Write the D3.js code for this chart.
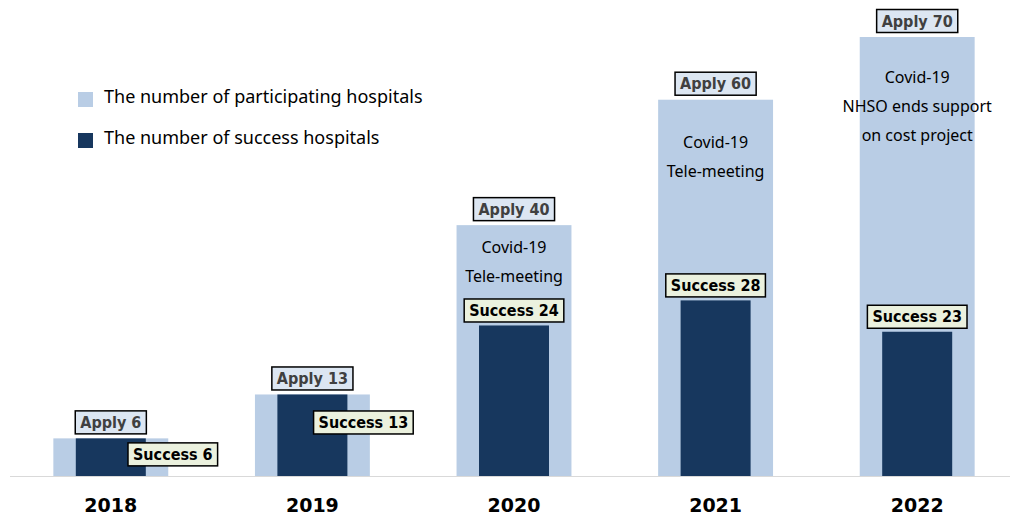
<!DOCTYPE html>
<html>
<head>
<meta charset="utf-8">
<script src="https://cdn.jsdelivr.net/npm/d3@7"></script>
<style>
  body { margin: 0; background: #fff; }
  svg { display: block; }
</style>
</head>
<body>
<script>
"use strict";
const years = ["2018", "2019", "2020", "2021", "2022"];
const applied = [6, 13, 40, 60, 70];
const success = [6, 13, 24, 28, 23];
const notes = [[], [], ["Covid-19", "Tele-meeting"], ["Covid-19", "Tele-meeting"], ["Covid-19", "NHSO ends support", "on cost project"]];
const legendLabels = ["The number of participating hospitals", "The number of success hospitals"];

const w = 1010, h = 516;
const light = "#b9cde5", dark = "#17375e";
const boldFont = "'DejaVu Sans Condensed', 'DejaVu Sans', sans-serif";
const textFont = "'Noto Sans', sans-serif";

const svg = d3.select("body").append("svg").attr("width", w).attr("height", h);

const x = d3.scaleBand().domain(years).range([10, 1018]).paddingInner(0.43).paddingOuter(0.215);
const y = d3.scaleLinear().domain([0, 70]).range([476, 37]);
const darkW = 70;

const rows = years.map((yr, i) => ({ yr, a: applied[i], s: success[i], note: notes[i], i }));

// baseline
svg.append("line").attr("x1", 10).attr("x2", 1014).attr("y1", y(0) + 0.5).attr("y2", y(0) + 0.5)
  .attr("stroke", "#d9d9d9").attr("stroke-width", 1);

svg.selectAll("rect.apply").data(rows).enter().append("rect").attr("class", "apply")
  .attr("x", d => x(d.yr)).attr("width", x.bandwidth())
  .attr("y", d => y(d.a)).attr("height", d => y(0) - y(d.a)).attr("fill", light);

svg.selectAll("rect.succ").data(rows).enter().append("rect").attr("class", "succ")
  .attr("x", d => x(d.yr) + (x.bandwidth() - darkW) / 2).attr("width", darkW)
  .attr("y", d => y(d.s)).attr("height", d => y(0) - y(d.s)).attr("fill", dark);

// year labels
const xAxis = d3.axisBottom(x).tickSize(0).tickPadding(0);
const gx = svg.append("g").attr("transform", "translate(0,495)").call(xAxis);
gx.select(".domain").remove();
gx.selectAll("text").attr("font-family", "'DejaVu Sans', sans-serif").attr("font-weight", "bold")
  .attr("font-size", 19).attr("fill", "#000").attr("dy", "0.9em");

function boxLabel(cx, cy, txt, fill, color) {
  const g = svg.append("g");
  const t = g.append("text").attr("x", cx).attr("y", cy).attr("text-anchor", "middle")
    .attr("dominant-baseline", "central").attr("font-family", boldFont).attr("font-weight", "bold")
    .attr("font-size", 16).attr("fill", color).text(txt);
  const bb = t.node().getBBox();
  g.insert("rect", "text").attr("x", cx - bb.width / 2 - 5).attr("y", cy - 11.5)
    .attr("width", bb.width + 10).attr("height", 23).attr("fill", fill)
    .attr("stroke", "#000").attr("stroke-width", 1.5);
}

// apply labels: above the light bars
rows.forEach(d => {
  boxLabel(x(d.yr) + x.bandwidth() / 2, y(d.a) - 16, "Apply " + d.a, "#dce6f2", "#404040");
});

// success labels: two small years sit beside the bar, others above
const succShift = [[62, 16], [51, 28], [0, -15], [0, -15], [0, -15]];
rows.forEach(d => {
  const [dx, dy] = succShift[d.i];
  boxLabel(x(d.yr) + x.bandwidth() / 2 + dx, y(d.s) + dy, "Success " + d.s, "#ebf1de", "#000");
});

// notes inside the light bars
const noteTop = [0, 0, 22, 42, 40];
rows.forEach(d => {
  d.note.forEach((line, j) => {
    svg.append("text").attr("x", x(d.yr) + x.bandwidth() / 2).attr("y", y(d.a) + noteTop[d.i] + j * 29)
      .attr("text-anchor", "middle").attr("dominant-baseline", "central")
      .attr("font-family", textFont).attr("font-size", 16).attr("fill", "#000").text(line);
  });
});

// legend
const legColors = [light, dark];
legendLabels.forEach((lab, i) => {
  svg.append("rect").attr("x", 78).attr("y", 92 + i * 41).attr("width", 15).attr("height", 15).attr("fill", legColors[i]);
  svg.append("text").attr("x", 104).attr("y", 96 + i * 41).attr("dominant-baseline", "central")
    .attr("font-family", textFont).attr("font-size", 18).attr("fill", "#000").text(lab);
});
</script>
</body>
</html>
